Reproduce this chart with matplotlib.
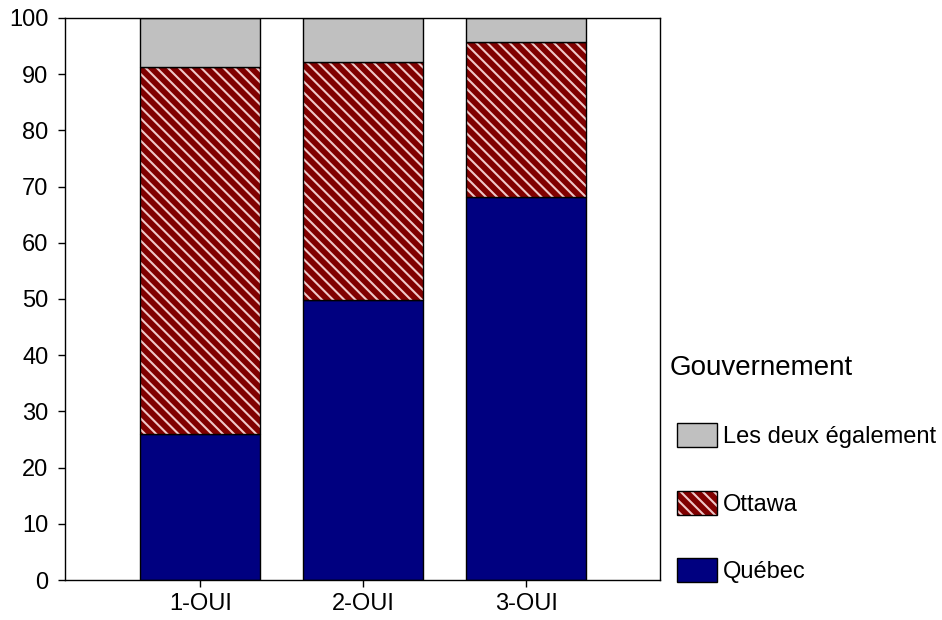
import matplotlib
matplotlib.use("Agg")
import matplotlib.pyplot as plt
from matplotlib.patches import Patch
from matplotlib.legend_handler import HandlerTuple
import numpy as np

plt.rcParams['font.family'] = ['Liberation Sans', 'DejaVu Sans']
plt.rcParams['hatch.linewidth'] = 1.5

categories = ["1-OUI", "2-OUI", "3-OUI"]
quebec = [26.0, 49.8, 68.2]
ottawa = [65.3, 42.4, 27.5]
deux = [8.7, 7.8, 4.3]
series_names = ["Québec", "Ottawa", "Les deux également"]
yticks = [0, 10, 20, 30, 40, 50, 60, 70, 80, 90, 100]

colors = ["#000080", "#800000", "#c0c0c0"]
hatches = [None, "\\\\\\", None]
hatch_colors = [None, "#f0c8c8", None]

fig = plt.figure(figsize=(9.42, 6.2), dpi=100)
ax = fig.add_axes([0.069, 0.0645, 0.6316, 0.9065])

x = np.arange(len(categories))
width = 0.736
bottom = np.zeros(len(categories))
for vals, col, h, hc in zip([quebec, ottawa, deux], colors, hatches, hatch_colors):
    vals = np.array(vals)
    if h:
        ax.bar(x, vals, width, bottom=bottom, color=col, hatch=h, edgecolor=hc, linewidth=0)
    else:
        ax.bar(x, vals, width, bottom=bottom, color=col, linewidth=0)
    ax.bar(x, vals, width, bottom=bottom, fill=False, edgecolor="black", linewidth=1.0)
    bottom = bottom + vals

ax.set_xlim(-0.83, 2.82)
ax.set_ylim(0, 100)
ax.set_xticks(x)
ax.set_xticklabels(categories, fontsize=17)
ax.set_yticks(yticks)
ax.set_yticklabels([str(t) for t in yticks], fontsize=17)
ax.tick_params(direction='out', length=5, width=1, color='black')
ax.tick_params(axis='y', pad=7)
ax.tick_params(axis='x', pad=4)
for s in ax.spines.values():
    s.set_linewidth(1.0)

outline = lambda: Patch(facecolor='none', edgecolor="black", linewidth=1)
handles = [
    (Patch(facecolor=colors[2], linewidth=0), outline()),
    (Patch(facecolor=colors[1], edgecolor=hatch_colors[1], hatch=hatches[1], linewidth=0), outline()),
    (Patch(facecolor=colors[0], linewidth=0), outline()),
]
fig.text(670 / 942, 1 - 368 / 620, "Gouvernement", fontsize=20, ha='left', va='center')
leg = fig.legend(handles, series_names[::-1], loc='upper left',
                 bbox_to_anchor=(677 / 942, 1 - 423 / 620), frameon=False, fontsize=17,
                 handlelength=1.7, handleheight=1.2, labelspacing=1.8,
                 handletextpad=0.25, borderaxespad=0, borderpad=0,
                 handler_map={tuple: HandlerTuple(ndivide=1, pad=0)})

fig.savefig("out.png", dpi=100)
